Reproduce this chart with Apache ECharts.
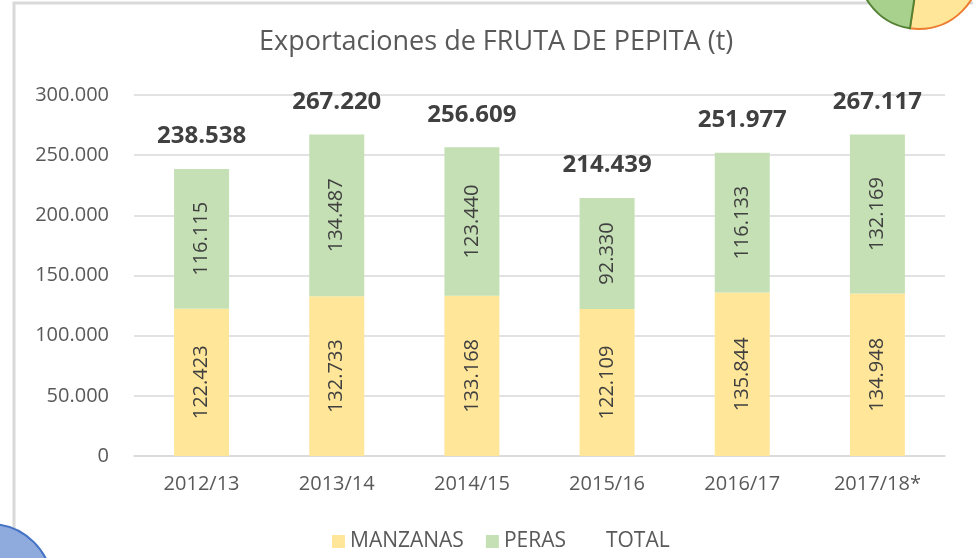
<!DOCTYPE html>
<html>
<head>
<meta charset="utf-8">
<script src="https://cdn.jsdelivr.net/npm/echarts@6/dist/echarts.min.js"></script>
<style>
  html, body { margin: 0; padding: 0; background: #fff; }
  #main { width: 973px; height: 558px; }
</style>
</head>
<body>
<div id="main"></div>
<script>
var campanas = ['2012/13', '2013/14', '2014/15', '2015/16', '2016/17', '2017/18*'];
var manzanas = [122423, 132733, 133168, 122109, 135844, 134948];
var peras = [116115, 134487, 123440, 92330, 116133, 132169];
var totales = [238538, 267220, 256609, 214439, 251977, 267117];
var ejeY = [0, 50000, 100000, 150000, 200000, 250000, 300000];

var fuente = '"Open Sans", "Noto Sans", sans-serif';

// miles con punto, como en Excel
function miles(v) {
    if (v === 0) return '0';
    return String(Math.round(v)).replace(/\B(?=(\d{3})+(?!\d))/g, '.');
}

var myChart = echarts.init(document.getElementById('main'));

var etiquetaBarra = {
    show: true,
    position: 'inside',
    rotate: 90,
    color: '#404040',
    fontFamily: fuente,
    fontSize: 20,
    formatter: function (p) { return miles(p.value); }
};

var option = {
    backgroundColor: '#fff',
    animation: false,
    title: {
        text: 'Exportaciones de FRUTA DE PEPITA (t)',
        left: 254,
        top: 24,
        textStyle: {
            color: '#595959',
            fontFamily: fuente,
            fontSize: 27,
            fontWeight: 'normal'
        }
    },
    legend: {
        left: 327,
        top: 526,
        itemWidth: 13,
        itemHeight: 13,
        itemGap: 22,
        textStyle: { color: '#595959', fontFamily: fuente, fontSize: 21 },
        data: [
            { name: 'MANZANAS', icon: 'rect' },
            { name: 'PERAS', icon: 'rect' },
            { name: 'TOTAL', icon: 'rect', itemStyle: { color: 'rgba(0,0,0,0)', borderWidth: 0 } }
        ]
    },
    grid: {
        left: 134,
        right: 28,
        top: 95,
        bottom: 102
    },
    xAxis: {
        type: 'category',
        data: campanas,
        axisTick: { show: false },
        axisLine: { lineStyle: { color: '#d9d9d9', width: 1.5 } },
        axisLabel: { color: '#595959', fontFamily: fuente, fontSize: 20, margin: 18 }
    },
    yAxis: {
        type: 'value',
        min: ejeY[0],
        max: ejeY[ejeY.length - 1],
        interval: ejeY[1] - ejeY[0],
        axisLine: { show: false },
        axisTick: { show: false },
        splitLine: { lineStyle: { color: '#d9d9d9', width: 1.5 } },
        axisLabel: {
            color: '#595959', fontFamily: fuente, fontSize: 20, margin: 25,
            formatter: miles
        }
    },
    graphic: [
        { // borde del gráfico
            type: 'rect', z: -10, silent: true,
            shape: { x: 14, y: 3, width: 1000, height: 600 },
            style: { fill: 'none', stroke: '#d9d9d9', lineWidth: 3 }
        },
        { // trozo de la tarta de arriba
            type: 'sector', z: 10, silent: true,
            shape: { cx: 919, cy: -32, r: 61, startAngle: -Math.PI / 2, endAngle: 1.72 },
            style: { fill: '#ffe699', stroke: '#ed7d31', lineWidth: 2 }
        },
        {
            type: 'sector', z: 10, silent: true,
            shape: { cx: 919, cy: -32, r: 61, startAngle: 1.72, endAngle: Math.PI * 1.5 },
            style: { fill: '#a9d18e', stroke: '#548235', lineWidth: 2 }
        },
        { // círculo azul de abajo
            type: 'circle', z: 10, silent: true,
            shape: { cx: -10, cy: 586, r: 62 },
            style: { fill: '#8faadc', stroke: '#4472c4', lineWidth: 2 }
        }
    ],
    series: [
        {
            name: 'MANZANAS',
            type: 'bar',
            stack: 'total',
            barWidth: 55,
            itemStyle: { color: '#ffe699' },
            label: etiquetaBarra,
            data: manzanas
        },
        {
            name: 'PERAS',
            type: 'bar',
            stack: 'total',
            barWidth: 55,
            itemStyle: { color: '#c5e0b4' },
            label: etiquetaBarra,
            data: peras
        },
        {
            name: 'TOTAL',
            type: 'line',
            symbol: 'circle',
            symbolSize: 1,
            itemStyle: { color: 'rgba(0,0,0,0)' },
            lineStyle: { opacity: 0 },
            label: {
                show: true,
                position: 'top',
                distance: 20,
                color: '#404040',
                fontFamily: fuente,
                fontSize: 24,
                fontWeight: 'bold',
                formatter: function (p) { return miles(p.value); }
            },
            data: totales
        }
    ]
};

myChart.setOption(option);
</script>
</body>
</html>
